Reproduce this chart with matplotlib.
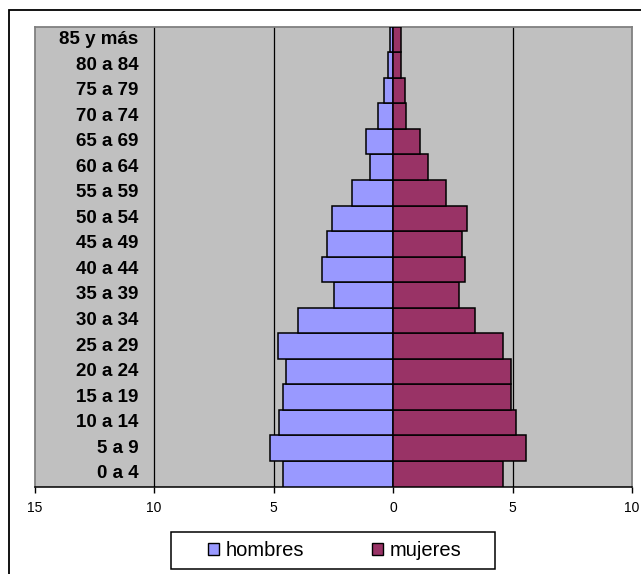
import matplotlib
matplotlib.use("Agg")
import matplotlib.pyplot as plt
from matplotlib.patches import Rectangle, Patch

plt.rcParams['font.family'] = ['Liberation Sans', 'DejaVu Sans']

# ---- data ----
grupos = ["0 a 4", "5 a 9", "10 a 14", "15 a 19", "20 a 24", "25 a 29", "30 a 34",
          "35 a 39", "40 a 44", "45 a 49", "50 a 54", "55 a 59", "60 a 64",
          "65 a 69", "70 a 74", "75 a 79", "80 a 84", "85 y más"]
hombres = [4.62, 5.17, 4.76, 4.62, 4.49, 4.83, 3.96, 2.48, 2.96, 2.77, 2.55,
           1.71, 0.98, 1.12, 0.65, 0.39, 0.20, 0.14]
mujeres = [4.61, 5.55, 5.14, 4.93, 4.93, 4.61, 3.41, 2.74, 3.01, 2.88, 3.08,
           2.20, 1.47, 1.14, 0.55, 0.48, 0.34, 0.34]
x_ticks = [-15, -10, -5, 0, 5, 10]
x_ticklabels = ["15", "10", "5", "0", "5", "10"]
serie_nombres = ["hombres", "mujeres"]
colores = ["#9999FF", "#993366"]

W, H = 641, 574
fig = plt.figure(figsize=(W / 100, H / 100), dpi=100)
fig.patch.set_facecolor("white")

# outer chart frame (extends beyond the image on right/bottom)
fig.add_artist(Rectangle((9 / W, -0.2), 2.0, (H - 10) / H + 0.2,
                         transform=fig.transFigure, fill=False,
                         edgecolor="black", lw=1.3, zorder=0))

left, right = 34.7, 632.0
top, bottom = 26.7, 486.5
ax = fig.add_axes([left / W, (H - bottom) / H, (right - left) / W, (bottom - top) / H])
ax.set_facecolor("#C0C0C0")

ypos = list(range(len(grupos)))
neg_h = [-v for v in hombres]
ax.barh(ypos, neg_h, height=1.0, color=colores[0], edgecolor="black", lw=1.1, zorder=3)
ax.barh(ypos, mujeres, height=1.0, color=colores[1], edgecolor="black", lw=1.1, zorder=3)

for gx in x_ticks[1:-1]:
    ax.axvline(gx, color="black", lw=0.9, zorder=1)

ax.set_xlim(-15, 10)
ax.set_ylim(-0.5, len(grupos) - 0.5)

ax.set_xticks(x_ticks)
ax.set_xticklabels(x_ticklabels, fontsize=10)
ax.tick_params(axis="x", direction="out", length=4.5, width=1.0, pad=6, colors="black")
ax.set_yticks([])

for s in ["top", "left", "right"]:
    ax.spines[s].set_color("#808080")
    ax.spines[s].set_linewidth(1.3)
ax.spines["bottom"].set_color("black")
ax.spines["bottom"].set_linewidth(1.1)

# category labels inside the plot area
for y, lab in zip(ypos, grupos):
    ax.text(-10.66, y, lab, ha="right", va="center", fontsize=13.5,
            fontweight="bold", color="black", zorder=4)

# legend
lx0, lx1, ly0, ly1 = 170.7, 495.0, 532.3, 569.0
fig.add_artist(Rectangle((lx0 / W, (H - ly1) / H), (lx1 - lx0) / W, (ly1 - ly0) / H,
                         transform=fig.transFigure, facecolor="white",
                         edgecolor="black", lw=1.1, zorder=2))
handles = [Patch(facecolor=c, edgecolor="black", lw=1.0) for c in colores]
leg = fig.legend(handles, serie_nombres, loc="center",
                 bbox_to_anchor=(334.5 / W, (H - 550.6) / H), ncol=2,
                 frameon=False, fontsize=14.5, handlelength=0.55, handleheight=0.55,
                 handletextpad=0.3, columnspacing=3.4, borderpad=0.0)
leg.set_zorder(3)

fig.savefig("out.png", dpi=100)
